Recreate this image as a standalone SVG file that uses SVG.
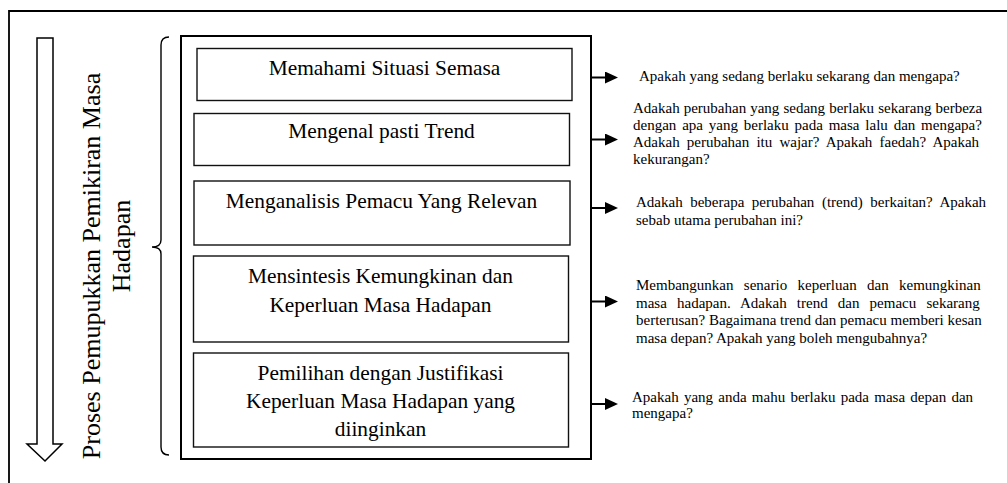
<svg xmlns="http://www.w3.org/2000/svg" width="1007" height="483" viewBox="0 0 1007 483">
  <style>
    .frame { fill: none; stroke: #000; stroke-width: 1.8; }
    .box { fill: #fff; stroke: #111; stroke-width: 1.4; }
    .outer { fill: none; stroke: #000; stroke-width: 2; }
    .step { font-family: "Liberation Serif", "Times New Roman", serif; font-size: 21.4px; fill: #000; text-anchor: middle; }
    .side { font-family: "Liberation Serif", "Times New Roman", serif; font-size: 15px; fill: #000; }
    .title { font-family: "Liberation Serif", "Times New Roman", serif; font-size: 26px; fill: #000; text-anchor: middle; }
    .link { stroke: #000; stroke-width: 2; fill: none; }
  </style>
  <defs>
    <marker id="head" markerUnits="userSpaceOnUse" markerWidth="14" markerHeight="12" refX="0" refY="6" orient="auto">
      <path d="M0,0 L13,6 L0,12 Z" fill="#000"/>
    </marker>
  </defs>

  <rect width="1007" height="483" fill="#fff"/>

  <!-- page frame (top and left edges) -->
  <path class="frame" d="M9,483 L9,11 L1007,11"/>

  <!-- hollow downward process arrow -->
  <g id="process-arrow">
    <path d="M37,38 L53,38 L53,444 L62,444 L45,461 L27,444 L37,444 Z" fill="#fff" stroke="#000" stroke-width="1.5" stroke-linejoin="miter"/>
  </g>

  <!-- rotated title -->
  <g id="title">
    <text class="title" transform="translate(100,266) rotate(-90)">Proses Pemupukkan Pemikiran Masa</text>
    <text class="title" transform="translate(130,246) rotate(-90)">Hadapan</text>
  </g>

  <!-- curly brace -->
  <g id="brace">
    <path d="M169,37 Q161,37 161,45 L161,240 Q161,247 152,247 Q161,247 161,254 L161,447 Q161,455 169,455" fill="none" stroke="#000" stroke-width="1.4"/>
  </g>

  <!-- container of the steps -->
  <g id="steps">
    <rect class="outer" x="181" y="36" width="410" height="423"/>
  </g>

  <g id="step1">
    <rect class="box" x="197" y="48.5" width="375" height="52"/>
    <text class="step" x="384.5" y="75">Memahami Situasi Semasa</text>
  </g>

  <g id="step2">
    <rect class="box" x="194" y="113.5" width="375.5" height="52"/>
    <text class="step" x="381.5" y="138">Mengenal pasti Trend</text>
  </g>

  <g id="step3">
    <rect class="box" x="194" y="181" width="376" height="64"/>
    <text class="step" x="381.5" y="208">Menganalisis Pemacu Yang Relevan</text>
  </g>

  <g id="step4">
    <rect class="box" x="193.5" y="256" width="375" height="86"/>
    <text class="step" x="380.5" y="283">Mensintesis Kemungkinan dan</text>
    <text class="step" x="380.5" y="312">Keperluan Masa Hadapan</text>
  </g>

  <g id="step5">
    <rect class="box" x="193.5" y="353" width="375" height="94"/>
    <text class="step" x="380.5" y="380">Pemilihan dengan Justifikasi</text>
    <text class="step" x="380.5" y="408">Keperluan Masa Hadapan yang</text>
    <text class="step" x="380.5" y="436">diinginkan</text>
  </g>

  <!-- connectors from the container to the guiding questions -->
  <g id="connectors">
    <line class="link" x1="591" y1="77.5" x2="605" y2="77.5" marker-end="url(#head)"/>
    <line class="link" x1="591" y1="139.5" x2="605" y2="139.5" marker-end="url(#head)"/>
    <line class="link" x1="591" y1="208" x2="605" y2="208" marker-end="url(#head)"/>
    <line class="link" x1="591" y1="301.5" x2="605" y2="301.5" marker-end="url(#head)"/>
    <line class="link" x1="591" y1="404" x2="605" y2="404" marker-end="url(#head)"/>
  </g>

  <!-- guiding questions -->
  <g id="q1">
    <text class="side" x="639" y="81">Apakah yang sedang berlaku sekarang dan mengapa?</text>
  </g>

  <g id="q2">
    <text class="side" x="633" y="113" word-spacing="0.3">Adakah perubahan yang sedang berlaku sekarang berbeza</text>
    <text class="side" x="633" y="130" word-spacing="2.07">dengan apa yang berlaku pada masa lalu dan mengapa?</text>
    <text class="side" x="633" y="147" word-spacing="3.4">Adakah perubahan itu wajar? Apakah faedah? Apakah</text>
    <text class="side" x="633" y="163.5">kekurangan?</text>
  </g>

  <g id="q3">
    <text class="side" x="636" y="207" word-spacing="3.8">Adakah beberapa perubahan (trend) berkaitan? Apakah</text>
    <text class="side" x="636" y="225">sebab utama perubahan ini?</text>
  </g>

  <g id="q4">
    <text class="side" x="636" y="290" word-spacing="6.6">Membangunkan senario keperluan dan kemungkinan</text>
    <text class="side" x="636" y="307.5" word-spacing="6.4">masa hadapan. Adakah trend dan pemacu sekarang</text>
    <text class="side" x="636" y="325">berterusan? Bagaimana trend dan pemacu memberi kesan</text>
    <text class="side" x="636" y="342.5">masa depan? Apakah yang boleh mengubahnya?</text>
  </g>

  <g id="q5">
    <text class="side" x="632" y="402" word-spacing="1.5">Apakah yang anda mahu berlaku pada masa depan dan</text>
    <text class="side" x="632" y="418">mengapa?</text>
  </g>
</svg>
